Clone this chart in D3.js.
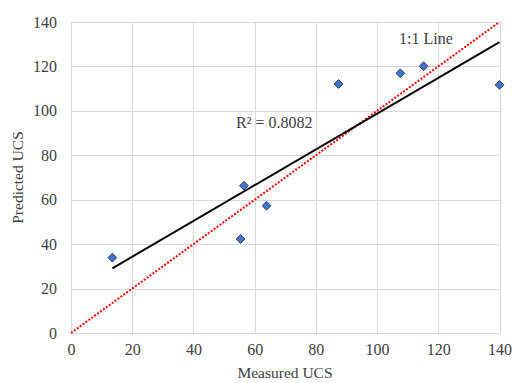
<!DOCTYPE html>
<html>
<head>
<meta charset="utf-8">
<script src="https://cdn.jsdelivr.net/npm/d3@7"></script>
<style>
  body { margin: 0; background: #fff; }
  svg text { font-family: "Liberation Serif", "Times New Roman", serif; fill: #404040; }
</style>
</head>
<body>
<svg id="chart" width="514" height="383"></svg>
<script>
const measured = [13.5, 56.5, 55.4, 63.9, 87.4, 107.6, 115.2, 140];
const predicted = [33.9, 66.3, 42.3, 57.3, 112.1, 116.9, 120.1, 111.7];
const xTicks = [0, 20, 40, 60, 80, 100, 120, 140];
const yTicks = [0, 20, 40, 60, 80, 100, 120, 140];
const r2Label = "R² = 0.8082";
const oneToOneLabel = "1:1 Line";

const width = 514, height = 383;
const margin = { top: 22, right: 15, bottom: 50, left: 71 };

const svg = d3.select("svg#chart");
const data = measured.map((m, i) => ({ x: m, y: predicted[i] }));

// SCALES
const xScale = d3.scaleLinear().domain([0, 140]).range([margin.left, width - margin.right + 0.5]);
const yScale = d3.scaleLinear().domain([0, 140]).range([height - margin.bottom, margin.top]);

// GRID
const grid = svg.append("g").attr("stroke", "#d9d9d9").attr("stroke-width", 1);
grid.selectAll("line.h").data(yTicks).join("line")
    .attr("x1", xScale(0)).attr("x2", xScale(140))
    .attr("y1", d => Math.round(yScale(d)) + 0.5).attr("y2", d => Math.round(yScale(d)) + 0.5);
grid.selectAll("line.v").data(xTicks).join("line")
    .attr("y1", yScale(0)).attr("y2", yScale(140))
    .attr("x1", d => Math.round(xScale(d)) + 0.5).attr("x2", d => Math.round(xScale(d)) + 0.5);

// AXES
const xAxis = g => g.attr("transform", `translate(0, ${yScale(0)})`)
    .call(d3.axisBottom(xScale).tickValues(xTicks).tickSize(0).tickPadding(11))
    .call(g => g.select(".domain").remove());
const yAxis = g => g.attr("transform", `translate(${xScale(0)},0)`)
    .call(d3.axisLeft(yScale).tickValues(yTicks).tickSize(0).tickPadding(14))
    .call(g => g.select(".domain").remove());
svg.append("g").call(xAxis)
    .attr("font-family", "Liberation Serif").attr("font-size", 16);
svg.append("g").call(yAxis)
    .attr("font-family", "Liberation Serif").attr("font-size", 16);
svg.selectAll(".tick text").attr("fill", "#404040");

// 1:1 LINE
svg.append("line")
    .attr("x1", xScale(0)).attr("y1", yScale(0))
    .attr("x2", xScale(140)).attr("y2", yScale(140))
    .attr("stroke", "#ff0000").attr("stroke-width", 2)
    .attr("stroke-dasharray", "2,1.6");

// TRENDLINE (least squares)
const mx = d3.mean(measured), my = d3.mean(predicted);
const slope = d3.sum(data, d => (d.x - mx) * (d.y - my)) / d3.sum(data, d => (d.x - mx) ** 2);
const intercept = my - slope * mx;
const [x0, x1] = d3.extent(measured);
svg.append("line")
    .attr("x1", xScale(x0)).attr("y1", yScale(intercept + slope * x0))
    .attr("x2", xScale(x1)).attr("y2", yScale(intercept + slope * x1))
    .attr("stroke", "#000").attr("stroke-width", 2);

// POINTS
svg.append("g").selectAll("path").data(data).join("path")
    .attr("d", d3.symbol(d3.symbolDiamond2, 50))
    .attr("transform", d => `translate(${xScale(d.x)},${yScale(d.y)})`)
    .attr("fill", "#4472c4").attr("stroke", "#203864").attr("stroke-width", 0.9);

// LABELS
svg.append("text").attr("x", 236).attr("y", 128)
    .style("font-size", "16px").text(r2Label);
svg.append("text").attr("x", 399).attr("y", 44)
    .style("font-size", "16px").text(oneToOneLabel);

svg.append("text")
    .attr("x", (margin.left + width - margin.right) / 2).attr("y", 378)
    .attr("text-anchor", "middle").style("font-size", "15.5px").text("Measured UCS");
svg.append("text")
    .attr("transform", `translate(23, ${(margin.top + height - margin.bottom) / 2}) rotate(-90)`)
    .attr("text-anchor", "middle").style("font-size", "15.5px").text("Predicted UCS");
</script>
</body>
</html>
